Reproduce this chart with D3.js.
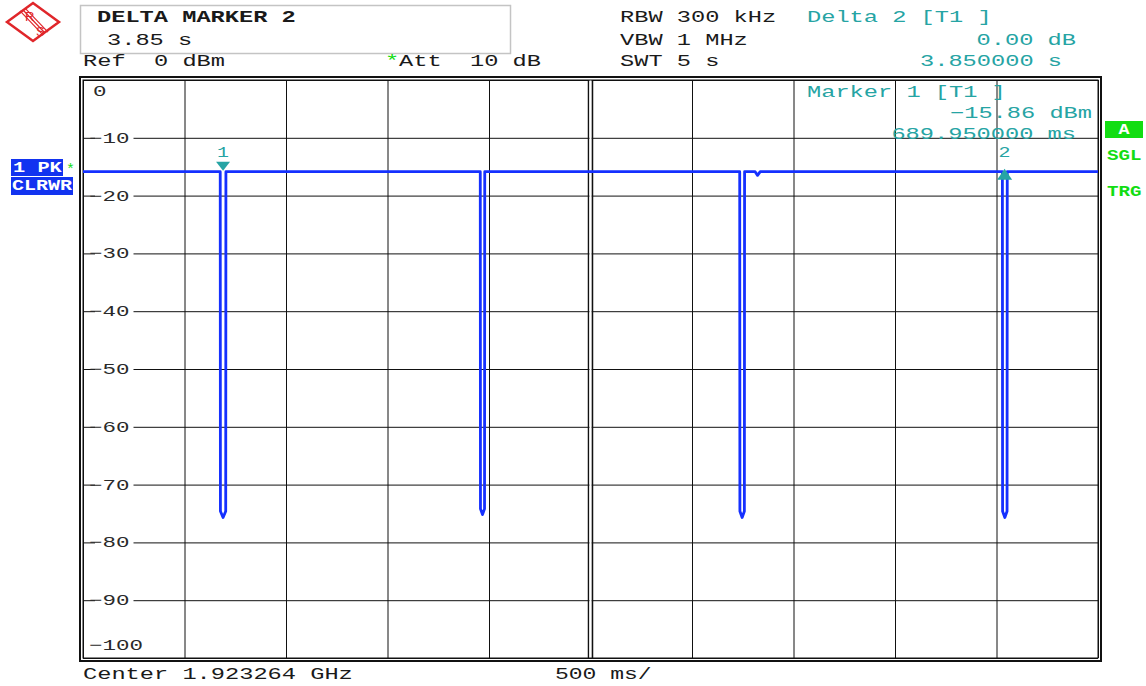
<!DOCTYPE html>
<html>
<head>
<meta charset="utf-8">
<script src="https://cdn.jsdelivr.net/npm/d3@7"></script>
<style>
  body { margin: 0; background: #fff; }
  text { white-space: pre; }
</style>
</head>
<body>
<div id="wrapper"></div>
<script>
// Trace: time in ms, level in dBm.
const traceTime = [0, 676, 677, 690, 703, 704, 1957, 1958, 1968, 1978, 1979, 3235, 3236, 3247, 3258, 3259, 3311, 3323, 3336, 4529, 4530, 4541, 4552, 4553, 5000]
const traceLevel = [-15.86, -15.86, -74.6, -75.7, -74.6, -15.86, -15.86, -74.2, -75.2, -74.2, -15.86, -15.86, -74.6, -75.7, -74.6, -15.86, -15.86, -16.5, -15.86, -15.86, -74.6, -75.7, -74.6, -15.86, -15.86]

const markerTime = [689.95, 4539.95]
const markerLevel = [-15.86, -15.86]
const markerName = ["1", "2"]
const markerDir = ["down", "up"]

const levelTicks = [0, -10, -20, -30, -40, -50, -60, -70, -80, -90, -100]
const levelTickLabels = ["0", "\u221210", "\u221220", "\u221230", "\u221240", "\u221250", "\u221260", "\u221270", "\u221280", "\u221290", "\u2212100"]
const timeTicks = [0, 500, 1000, 1500, 2000, 2500, 3000, 3500, 4000, 4500, 5000]

const dimensions = {
  width: 1146,
  height: 686,
  plot: { left: 83, right: 1098, top: 80, bottom: 658 },
}

const teal = "#26a4a4"
const ink = "#1a1a1a"
const traceBlue = "#1530ff"
const green = "#12dd12"
const boxBlue = "#1233f0"
const mono = "'Liberation Mono', 'DejaVu Sans Mono', monospace"

const svg = d3.select("#wrapper")
  .append("svg")
    .attr("width", dimensions.width)
    .attr("height", dimensions.height)

// text in the analyzer's wide monospace: stretch every string to a fixed pitch
function monoText(x, y, str, opts = {}) {
  const pitch = opts.pitch || 14.2
  return svg.append("text")
    .attr("x", x)
    .attr("y", y)
    .attr("font-family", mono)
    .attr("font-size", opts.size || 16)
    .attr("font-weight", opts.bold ? "bold" : "normal")
    .attr("fill", opts.fill || ink)
    .attr("text-anchor", opts.anchor || "start")
    .attr("textLength", str.length * pitch)
    .attr("lengthAdjust", "spacingAndGlyphs")
    .text(str)
}

const xScale = d3.scaleLinear()
  .domain([0, 5000])
  .range([dimensions.plot.left, dimensions.plot.right])

const yScale = d3.scaleLinear()
  .domain([0, -100])
  .range([dimensions.plot.top, dimensions.plot.bottom])

const plotW = dimensions.plot.right - dimensions.plot.left
const plotH = dimensions.plot.bottom - dimensions.plot.top

// ---- logo ----
const logo = svg.append("g").attr("transform", "translate(33,22)")
logo.append("path")
  .attr("d", "M -26 0 L 0 -19 L 26 0 L 0 19 Z")
  .attr("fill", "none")
  .attr("stroke", "#e0262a")
  .attr("stroke-width", 2.5)
;[-3, 0, 3].forEach(o => {
  logo.append("line")
    .attr("x1", -10 + o).attr("y1", -12 - o * 0.3)
    .attr("x2", 12 + o).attr("y2", 11 - o * 0.3)
    .attr("stroke", "#e0262a").attr("stroke-width", 1.2)
})
logo.append("text").attr("x", -8).attr("y", -1).text("R")
  .attr("font-family", "'Liberation Sans', Arial, sans-serif").attr("font-size", 13).attr("fill", "#e0262a")
logo.append("text").attr("x", 3).attr("y", 14).text("S")
  .attr("font-family", "'Liberation Sans', Arial, sans-serif").attr("font-size", 13).attr("fill", "#e0262a")

// ---- header ----
svg.append("rect")
  .attr("x", 80.5).attr("y", 5.5).attr("width", 430).attr("height", 48)
  .attr("fill", "none").attr("stroke", "#c4c4c4").attr("stroke-width", 1.5)

monoText(97, 22, "DELTA MARKER 2", { bold: true })
monoText(107, 45, "3.85 s")
monoText(83, 66, "Ref  0 dBm")
monoText(385, 66, "*", { fill: green })
monoText(399, 66, "Att  10 dB")

monoText(620, 22, "RBW 300 kHz")
monoText(620, 45, "VBW 1 MHz")
monoText(620, 66, "SWT 5 s")
monoText(807, 22, "Delta 2 [T1 ]", { fill: teal })
monoText(1076, 45, "0.00 dB", { fill: teal, anchor: "end" })
monoText(1062, 66, "3.850000 s", { fill: teal, anchor: "end" })

// ---- grid ----
const grid = svg.append("g")

grid.append("g")
  .attr("transform", `translate(${dimensions.plot.left},0)`)
  .call(d3.axisLeft(yScale).tickValues(levelTicks).tickSize(-plotW).tickFormat(""))
  .call(g => g.select(".domain").remove())
  .call(g => g.selectAll("line").attr("stroke", "#111").attr("stroke-width", 1))

grid.append("g")
  .attr("transform", `translate(0,${dimensions.plot.top})`)
  .call(d3.axisTop(xScale).tickValues(timeTicks).tickSize(-plotH).tickFormat(""))
  .call(g => g.select(".domain").remove())
  .call(g => g.selectAll("line").attr("stroke", "#111").attr("stroke-width", 1))

// double line at the centre
const xMid = xScale(2500)
;[-2, 2].forEach(o => {
  svg.append("line")
    .attr("x1", xMid + o).attr("x2", xMid + o)
    .attr("y1", dimensions.plot.top).attr("y2", dimensions.plot.bottom)
    .attr("stroke", "#111").attr("stroke-width", 1.5)
})
svg.append("line")
  .attr("x1", xMid).attr("x2", xMid)
  .attr("y1", dimensions.plot.top).attr("y2", dimensions.plot.bottom)
  .attr("stroke", "#fff").attr("stroke-width", 2)

// frame: double border
svg.append("rect")
  .attr("x", 80).attr("y", 77)
  .attr("width", 1101 - 80).attr("height", 661 - 77)
  .attr("fill", "none").attr("stroke", "#111").attr("stroke-width", 2)
svg.append("rect")
  .attr("x", dimensions.plot.left).attr("y", dimensions.plot.top)
  .attr("width", plotW).attr("height", plotH)
  .attr("fill", "none").attr("stroke", "#111").attr("stroke-width", 1)

// level labels, kept inside the plot
levelTicks.forEach((v, i) => {
  const label = levelTickLabels[i]
  let y = yScale(v) + 5
  if (i === 0) y = yScale(v) + 16
  if (i === levelTicks.length - 1) y = yScale(v) - 8
  const x = label.length === 1 ? 93 : 89
  if (i > 0 && i < levelTicks.length - 1) {
    svg.append("rect")
      .attr("x", x + 6).attr("y", yScale(v) - 7)
      .attr("width", label.length * 13.5 - 2).attr("height", 14)
      .attr("fill", "#fff")
  }
  monoText(x, y, label, { pitch: 13.5, size: 15, fill: "#2a2a2a" })
})

// ---- trace ----
const trace = d3.range(traceTime.length).map(i => ({ t: traceTime[i], v: traceLevel[i] }))
const lineGenerator = d3.line()
  .x(d => xScale(d.t))
  .y(d => yScale(d.v))

svg.append("path")
  .attr("d", lineGenerator(trace))
  .attr("fill", "none")
  .attr("stroke", traceBlue)
  .attr("stroke-width", 2.8)
  .attr("stroke-linejoin", "round")

// ---- markers ----
markerTime.forEach((t, i) => {
  const x = xScale(t)
  const y = yScale(markerLevel[i])
  const tri = markerDir[i] === "down"
    ? `M ${x - 7} ${y - 10} L ${x + 7} ${y - 10} L ${x} ${y - 1} Z`
    : `M ${x - 7.5} ${y + 8} L ${x + 7.5} ${y + 8} L ${x} ${y - 3} Z`
  svg.append("path").attr("d", tri).attr("fill", teal)
  monoText(x, 157, markerName[i], { fill: teal, anchor: "middle", size: 15, pitch: 12 })
})

// marker readout
monoText(807, 97, "Marker 1 [T1 ]", { fill: teal })
monoText(1092, 118, "\u221215.86 dBm", { fill: teal, anchor: "end" })
monoText(1076, 139, "689.950000 ms", { fill: teal, anchor: "end" })

// ---- side boxes ----
svg.append("rect").attr("x", 11).attr("y", 159).attr("width", 52).attr("height", 17).attr("fill", boxBlue)
monoText(13, 172, "1 PK", { fill: "#fff", bold: true, size: 14, pitch: 12.2 })
monoText(66, 174, "*", { fill: green, size: 14, pitch: 9 })
svg.append("rect").attr("x", 11).attr("y", 177).attr("width", 62).attr("height", 18).attr("fill", boxBlue)
monoText(12, 190, "CLRWR", { fill: "#fff", bold: true, size: 14, pitch: 12 })

svg.append("rect").attr("x", 1105).attr("y", 121).attr("width", 38).attr("height", 17).attr("fill", green)
monoText(1124, 134, "A", { fill: "#fff", bold: true, size: 14, pitch: 11, anchor: "middle" })
monoText(1107, 160, "SGL", { fill: green, bold: true, size: 14, pitch: 11.5 })
monoText(1107, 196, "TRG", { fill: green, bold: true, size: 14, pitch: 11.5 })

// ---- footer ----
monoText(83, 679, "Center 1.923264 GHz")
monoText(555, 679, "500 ms/", { pitch: 13.8 })
</script>
</body>
</html>
